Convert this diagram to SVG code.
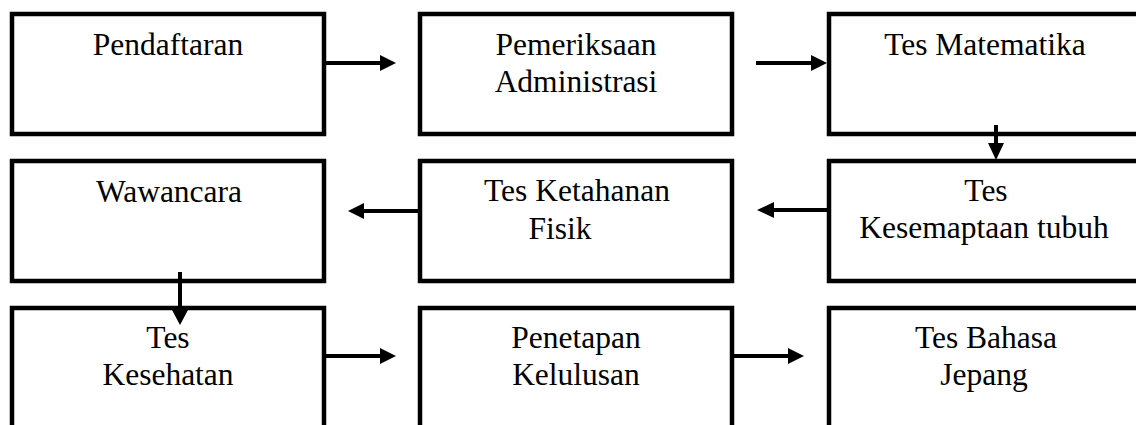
<svg xmlns="http://www.w3.org/2000/svg" width="1136" height="425" viewBox="0 0 1136 425">
<style>
.box{fill:#fff;stroke:#000;stroke-width:4.5}
.lbl{font-family:"Liberation Serif","Times New Roman",serif;font-size:31.5px;fill:#000;text-anchor:middle}
.ln{stroke:#000;stroke-width:4;fill:none}
.hd{fill:#000;stroke:none}
</style>
<rect width="1136" height="425" fill="#fff"/>
<g id="n1"><rect class="box" x="12" y="14" width="312" height="120"/><text class="lbl" x="168" y="55">Pendaftaran</text></g>
<g id="n2"><rect class="box" x="420" y="14" width="312" height="120"/><text class="lbl" x="576" y="55">Pemeriksaan</text><text class="lbl" x="576" y="92">Administrasi</text></g>
<g id="n3"><rect class="box" x="829" y="14" width="312" height="120"/><text class="lbl" x="985" y="55">Tes Matematika</text></g>
<g id="n4"><rect class="box" x="12" y="161" width="312" height="120"/><text class="lbl" x="169" y="202">Wawancara</text></g>
<g id="n5"><rect class="box" x="420" y="161" width="312" height="120"/><text class="lbl" x="577" y="201">Tes Ketahanan</text><text class="lbl" x="560" y="239">Fisik</text></g>
<g id="n6"><rect class="box" x="829" y="161" width="312" height="120"/><text class="lbl" x="986" y="201">Tes</text><text class="lbl" x="984" y="238">Kesemaptaan tubuh</text></g>
<g id="n7"><rect class="box" x="12" y="308" width="312" height="140"/><text class="lbl" x="168" y="348">Tes</text><text class="lbl" x="168" y="385">Kesehatan</text></g>
<g id="n8"><rect class="box" x="420" y="308" width="312" height="140"/><text class="lbl" x="576" y="348">Penetapan</text><text class="lbl" x="576" y="385">Kelulusan</text></g>
<g id="n9"><rect class="box" x="829" y="308" width="312" height="140"/><text class="lbl" x="986" y="348">Tes Bahasa</text><text class="lbl" x="984" y="385">Jepang</text></g>
<g id="connectors">
<path class="ln" d="M324 63H382"/><polygon class="hd" points="380,55 396,63 380,71"/>
<path class="ln" d="M756 63H813"/><polygon class="hd" points="811,55 827,63 811,71"/>
<path class="ln" d="M996 125V146"/><polygon class="hd" points="988,143 1004,143 996,160"/>
<path class="ln" d="M829 210H772"/><polygon class="hd" points="774,202 757,210 774,218"/>
<path class="ln" d="M420 211H362"/><polygon class="hd" points="364,203 348,211 364,219"/>
<path class="ln" d="M180 272V312"/><polygon class="hd" points="172,310 188,310 180,325"/>
<path class="ln" d="M324 356H382"/><polygon class="hd" points="380,348 396,356 380,364"/>
<path class="ln" d="M732 356H790"/><polygon class="hd" points="788,348 804,356 788,364"/>
</g>
</svg>
